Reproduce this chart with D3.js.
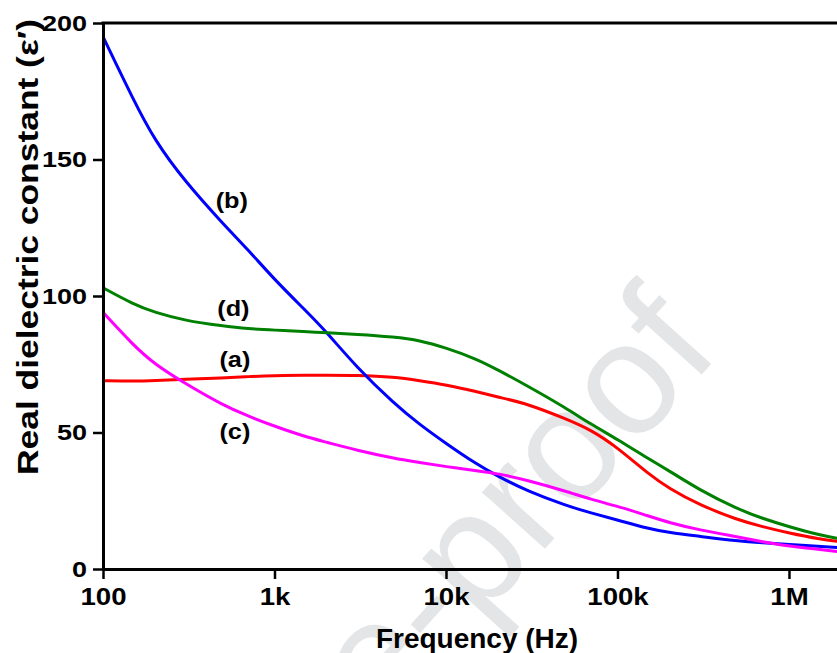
<!DOCTYPE html>
<html>
<head>
<meta charset="utf-8">
<script src="https://cdn.jsdelivr.net/npm/d3@7"></script>
<style>
body { margin: 0; background: #fff; }
svg { display: block; font-family: "Liberation Sans", Arial, sans-serif; font-weight: bold; }
</style>
</head>
<body>
<script>
// data (frequency in Hz, real dielectric constant)
const freq = [100, 150, 200, 300, 500, 700, 1e3, 1.5e3, 2e3, 3e3, 5e3, 7e3, 1e4, 1.5e4, 2e4, 3e4, 5e4, 7e4, 1e5, 1.5e5, 2e5, 3e5, 5e5, 7e5, 1e6, 1.5e6, 2e6];
const epsA = [69, 68.8, 69, 69.5, 70, 70.5, 70.8, 71, 71, 71, 70.3, 69, 67.5, 65, 63, 60.5, 55, 51, 44.5, 35, 29.5, 23.5, 18, 15.5, 13.2, 11, 10];
const epsB = [195, 172, 157, 142, 126.5, 117, 106, 95, 87, 74, 60.5, 53, 46, 38.5, 34, 28.5, 23.3, 20.5, 18, 14.8, 13.3, 12, 10.3, 9.6, 9, 8.3, 7.8];
const epsC = [94, 82, 75, 68, 60, 56, 52.3, 48.5, 46.5, 43.5, 40.5, 39, 37.5, 36, 35, 32.5, 28.5, 25.5, 23, 19.5, 17, 14.3, 11.8, 10, 8.3, 7.2, 6.3];
const epsD = [103, 97, 94, 91, 89, 88, 87.5, 87, 86.5, 86, 85, 83.8, 81, 77, 73, 67, 59, 53, 47.5, 40.5, 36, 29, 22, 18.5, 15.5, 12.5, 11];

const seriesNames = ["(a)", "(b)", "(c)", "(d)"];
const seriesColors = ["#ff0000", "#0000ff", "#ff00ff", "#008000"];
const seriesValues = [epsA, epsB, epsC, epsD];
// label anchor points (freq, value)
const labelFreq = [500, 480, 500, 490];
const labelVal = [77, 135, 50.5, 95.5];

const xMajor = [100, 1e3, 1e4, 1e5, 1e6];
const xMajorLabels = ["100", "1k", "10k", "100k", "1M"];
const yMajor = [0, 50, 100, 150, 200];
const yMinor = [25, 75, 125, 175];

const canvWidth = 837, canvHeight = 653;
const svg = d3.select("body").append("svg")
    .attr("width", canvWidth)
    .attr("height", canvHeight);

svg.append("rect").attr("width", canvWidth).attr("height", canvHeight).attr("fill", "#fff");

const xScale = d3.scaleLog().domain([100, 2e6]).range([103, 840.6]);
const yScale = d3.scaleLinear().domain([0, 200]).range([569, 23]);

// watermark
svg.append("text")
    .attr("transform", "translate(722,352) rotate(-48)")
    .attr("text-anchor", "end")
    .attr("font-size", 160)
    .attr("font-weight", "normal")
    .attr("fill", "#e4e5e7")
    .text("Journal Pre-proof");

// minor x ticks
let xMinor = [];
for (let d = 100; d < 2e6; d *= 10) {
    for (let k = 2; k <= 9; k++) if (d * k <= 2e6) xMinor.push(d * k);
}

svg.append("clipPath").attr("id", "plot-clip")
    .append("rect").attr("x", 103).attr("y", 0).attr("width", 740).attr("height", 569);

const line = d3.line()
    .x((d, i) => xScale(freq[i]))
    .y(d => yScale(d))
    .curve(d3.curveBasis);

svg.append("g").attr("clip-path", "url(#plot-clip)")
    .selectAll("path")
    .data(seriesValues)
    .join("path")
    .attr("d", d => line(d))
    .attr("fill", "none")
    .attr("stroke", (d, i) => seriesColors[i])
    .attr("stroke-width", 3);

// curve labels
svg.append("g").selectAll("text")
    .data(seriesNames)
    .join("text")
    .attr("transform", (d, i) => "translate(" + (xScale(labelFreq[i]) + 12) + "," + yScale(labelVal[i]) + ") scale(1.15,1)")
    .attr("text-anchor", "middle")
    .attr("dy", "0.35em")
    .attr("font-size", 22)
    .text(d => d);

// axes
const xAxisG = svg.append("g").attr("transform", "translate(0,569)");
xAxisG.call(d3.axisBottom(xScale).tickValues(xMinor).tickFormat("").tickSize(6).tickSizeOuter(0));
xAxisG.call(d3.axisBottom(xScale).tickValues(xMajor).tickFormat((d, i) => xMajorLabels[i]).tickSize(10).tickPadding(9).tickSizeOuter(0));

const yAxisG = svg.append("g").attr("transform", "translate(103,0)");
yAxisG.call(d3.axisLeft(yScale).tickValues(yMinor).tickFormat("").tickSize(6).tickSizeOuter(0));
yAxisG.call(d3.axisLeft(yScale).tickValues(yMajor).tickSize(10).tickPadding(3.3).tickSizeOuter(0));

svg.selectAll(".domain").attr("stroke", "#000").attr("stroke-width", 3);
svg.selectAll(".tick line").attr("stroke", "#000").attr("stroke-width", 2.5);
xAxisG.selectAll(".tick text")
    .attr("font-family", "Liberation Sans, Arial, sans-serif")
    .attr("font-weight", "bold")
    .attr("font-size", 24)
    .attr("fill", "#000")
    .attr("transform", "scale(1.15,1)");
yAxisG.selectAll(".tick text")
    .attr("font-family", "Liberation Sans, Arial, sans-serif")
    .attr("font-weight", "bold")
    .attr("font-size", 22.5)
    .attr("fill", "#000")
    .attr("transform", "scale(1.2,1)");

// top border
svg.append("line")
    .attr("x1", 101.5).attr("x2", canvWidth)
    .attr("y1", 23).attr("y2", 23)
    .attr("stroke", "#000").attr("stroke-width", 3);

// axis titles
svg.append("text")
    .attr("x", 477).attr("y", 648)
    .attr("text-anchor", "middle")
    .attr("font-size", 28)
    .text("Frequency (Hz)");

svg.append("text")
    .attr("transform", "translate(38,247) rotate(-90) scale(1.18,1)")
    .attr("text-anchor", "middle")
    .attr("font-size", 30)
    .text("Real dielectric constant  (\u03b5\u2032)");
</script>
</body>
</html>
